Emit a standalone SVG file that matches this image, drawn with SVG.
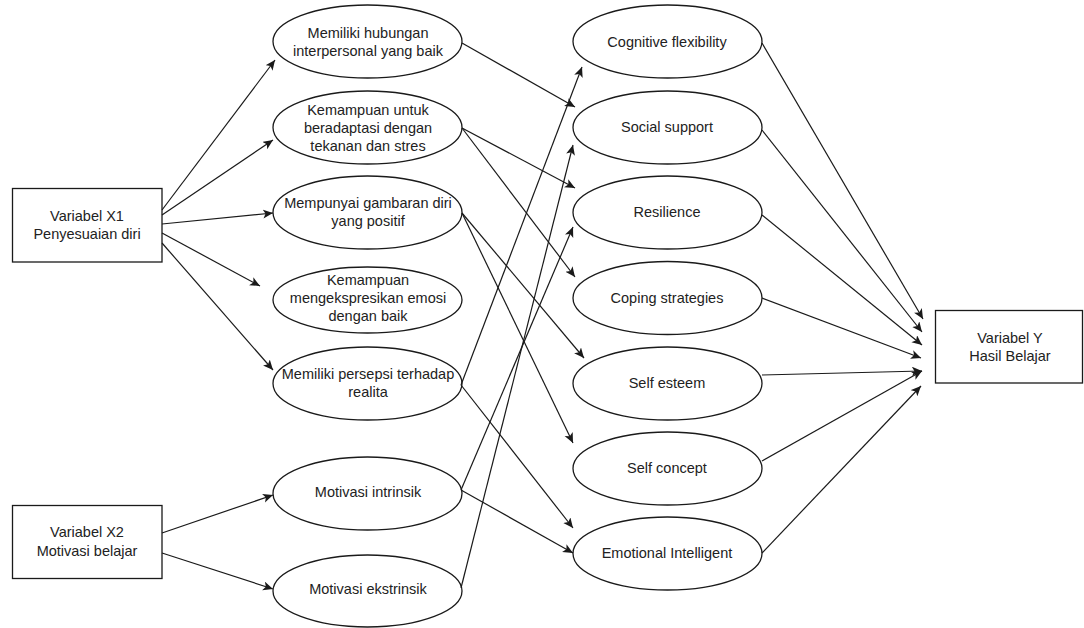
<svg xmlns="http://www.w3.org/2000/svg" width="1084" height="628" viewBox="0 0 1084 628">
<defs>
<marker id="arr" markerUnits="userSpaceOnUse" markerWidth="11" markerHeight="10" refX="10" refY="4.5" orient="auto">
<path d="M0,0 L10,4.5 L0,9 L2.5,4.5 Z" fill="#1a1a1a"/>
</marker>
<style>
.n{fill:#fff;stroke:#1a1a1a;stroke-width:1.3}
.t{font-family:"Liberation Sans",Arial,sans-serif;font-size:14.5px;fill:#222;text-anchor:middle}
.c line{stroke:#1a1a1a;stroke-width:1.2;marker-end:url(#arr)}
</style>
</defs>
<rect width="1084" height="628" fill="#fff"/>
<g id="x1"><rect class="n" x="12.5" y="188.5" width="149.5" height="73.5"/><text class="t" x="87" y="221">Variabel X1</text><text class="t" x="87" y="239">Penyesuaian diri</text></g>
<g id="x2"><rect class="n" x="12.5" y="505.5" width="149.5" height="73"/><text class="t" x="87" y="537">Variabel X2</text><text class="t" x="87" y="556">Motivasi belajar</text></g>
<g id="y"><rect class="n" x="935.5" y="310.5" width="147" height="72.5"/><text class="t" x="1010" y="343">Variabel Y</text><text class="t" x="1010" y="361">Hasil Belajar</text></g>
<g id="m1"><ellipse class="n" cx="367.5" cy="41.5" rx="94.5" ry="36.5"/><text class="t" x="368" y="38">Memiliki hubungan</text><text class="t" x="368" y="56">interpersonal yang baik</text></g>
<g id="m2"><ellipse class="n" cx="367.5" cy="127.5" rx="94.5" ry="36.5"/><text class="t" x="368" y="115">Kemampuan untuk</text><text class="t" x="368" y="133">beradaptasi dengan</text><text class="t" x="368" y="151">tekanan dan stres</text></g>
<g id="m3"><ellipse class="n" cx="367.5" cy="212.5" rx="94.5" ry="36.5"/><text class="t" x="368" y="208">Mempunyai gambaran diri</text><text class="t" x="368" y="226">yang positif</text></g>
<g id="m4"><ellipse class="n" cx="367.5" cy="300" rx="94.5" ry="33"/><text class="t" x="368" y="285">Kemampuan</text><text class="t" x="368" y="303">mengekspresikan emosi</text><text class="t" x="368" y="321">dengan baik</text></g>
<g id="m5"><ellipse class="n" cx="367.5" cy="383.5" rx="94.5" ry="36.5"/><text class="t" x="368" y="379">Memiliki persepsi terhadap</text><text class="t" x="368" y="397">realita</text></g>
<g id="m6"><ellipse class="n" cx="367.5" cy="493.5" rx="94.5" ry="36.5"/><text class="t" x="368" y="497">Motivasi intrinsik</text></g>
<g id="m7"><ellipse class="n" cx="367.5" cy="591" rx="94.5" ry="36"/><text class="t" x="368" y="594">Motivasi ekstrinsik</text></g>
<g id="r1"><ellipse class="n" cx="667.5" cy="41.5" rx="94.5" ry="36.5"/><text class="t" x="667" y="47">Cognitive flexibility</text></g>
<g id="r2"><ellipse class="n" cx="667.5" cy="127.5" rx="94.5" ry="36.5"/><text class="t" x="667" y="132">Social support</text></g>
<g id="r3"><ellipse class="n" cx="667.5" cy="212.5" rx="94.5" ry="36.5"/><text class="t" x="667" y="217">Resilience</text></g>
<g id="r4"><ellipse class="n" cx="667.5" cy="298" rx="94.5" ry="36.5"/><text class="t" x="667" y="303">Coping strategies</text></g>
<g id="r5"><ellipse class="n" cx="667.5" cy="383.5" rx="94.5" ry="36.5"/><text class="t" x="667" y="388">Self esteem</text></g>
<g id="r6"><ellipse class="n" cx="667.5" cy="468.5" rx="94.5" ry="36.5"/><text class="t" x="667" y="473">Self concept</text></g>
<g id="r7"><ellipse class="n" cx="667.5" cy="553.5" rx="94.5" ry="36.5"/><text class="t" x="667" y="558">Emotional Intelligent</text></g>
<g id="connectors" class="c">
<line x1="162" y1="210" x2="275" y2="60"/>
<line x1="162" y1="215" x2="273" y2="140"/>
<line x1="162" y1="224" x2="273" y2="213"/>
<line x1="162" y1="233" x2="260" y2="286"/>
<line x1="162" y1="243" x2="273" y2="370"/>
<line x1="162" y1="533" x2="273" y2="495"/>
<line x1="162" y1="553" x2="273" y2="589"/>
<line x1="462" y1="43" x2="575" y2="107"/>
<line x1="462" y1="128" x2="575" y2="188"/>
<line x1="462" y1="128" x2="575" y2="277"/>
<line x1="462" y1="213" x2="584" y2="358"/>
<line x1="462" y1="213" x2="573" y2="443"/>
<line x1="461" y1="385" x2="582" y2="67"/>
<line x1="461" y1="385" x2="573" y2="528"/>
<line x1="461" y1="490" x2="573" y2="227"/>
<line x1="461" y1="490" x2="573" y2="553"/>
<line x1="461" y1="588" x2="573" y2="145"/>
<line x1="762" y1="43" x2="923" y2="319"/>
<line x1="762" y1="130" x2="922" y2="332"/>
<line x1="762" y1="215" x2="922" y2="345"/>
<line x1="762" y1="298" x2="921" y2="358"/>
<line x1="762" y1="375" x2="922" y2="371"/>
<line x1="762" y1="461" x2="922" y2="371"/>
<line x1="762" y1="553" x2="921" y2="386"/>
</g>
</svg>
